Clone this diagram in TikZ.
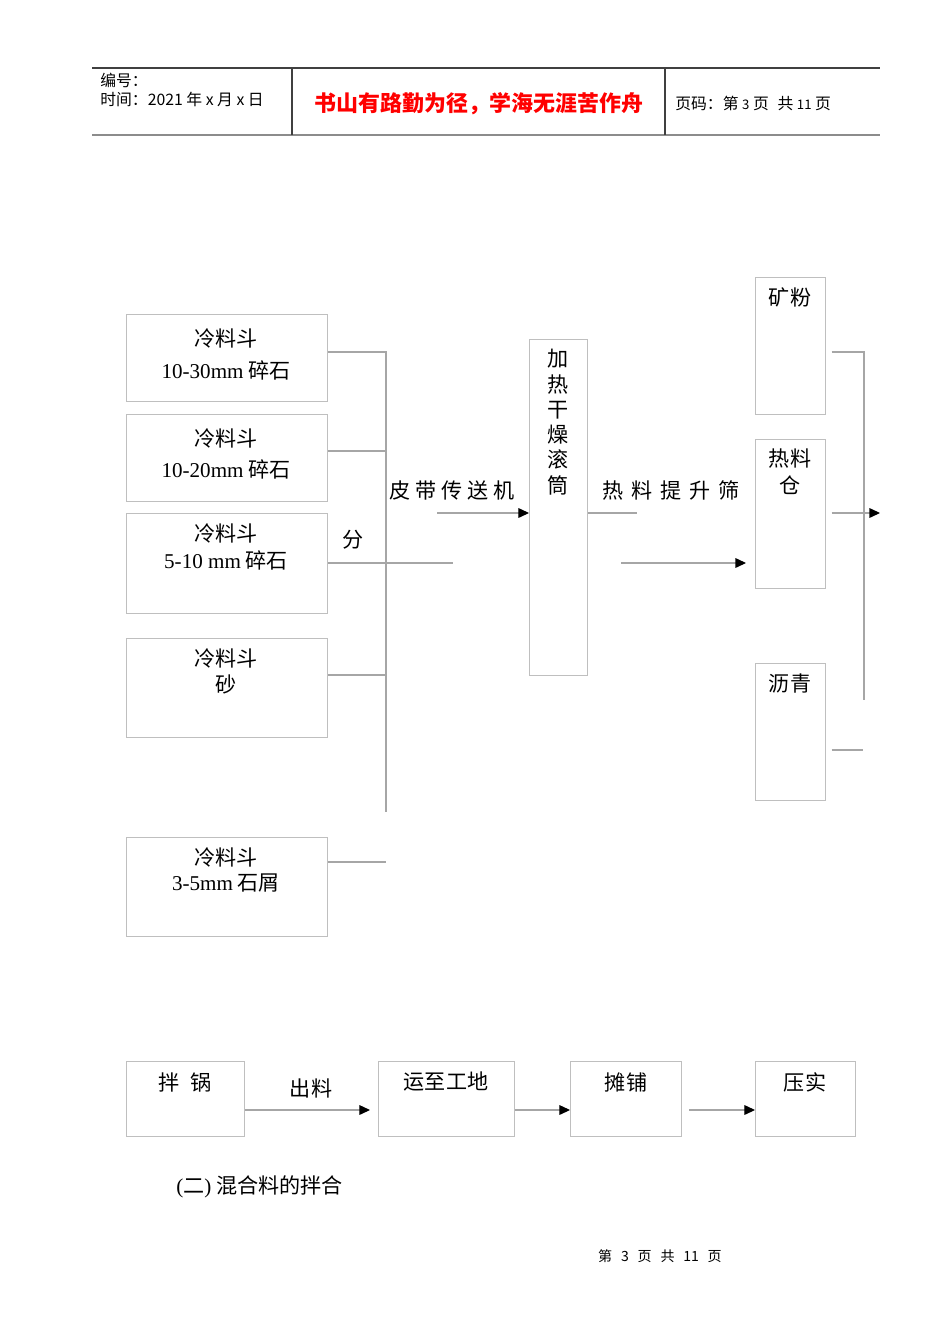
\documentclass[tikz,border=0pt]{standalone}
\usepackage{fontspec}
\setmainfont{Liberation Serif}
\newfontfamily\cjk{Noto Sans CJK SC}
\usepackage{tikz}
\usetikzlibrary{arrows.meta,positioning}
\definecolor{boxgray}{HTML}{BFBFBF}
\definecolor{wiregray}{HTML}{A6A6A6}
\definecolor{rulegray}{HTML}{8C8C8C}
\tikzset{
	hopper/.style={draw=boxgray,line width=0.6pt,anchor=north west,inner sep=0,minimum width=4.02cm},
	binbox/.style={draw=boxgray,line width=0.6pt,anchor=north west,inner sep=0,minimum width=1.4cm},
	stepbox/.style={draw=boxgray,line width=0.6pt,anchor=north west,inner sep=0,minimum height=1.5cm},
	lbl/.style={inner sep=0,font=\cjk\fontsize{12}{14}\selectfont},
	hdr/.style={inner sep=0,anchor=west,font=\cjk\fontsize{9}{11}\selectfont},
	wire/.style={draw=wiregray,line width=0.6pt},
	flow/.style={draw=wiregray,line width=0.6pt,-{Triangle[length=6pt,width=5.5pt,color=black]}}
}

\begin{document}
\begin{tikzpicture}[x=0.02cm,y=-0.02cm]
		\useasboundingbox (0,0) rectangle (950,1344);
		
		% page header
		\draw[black!75,line width=0.6pt] (92,68) -- (880,68);
		\draw[rulegray,line width=1.2pt] (92,135) -- (880,135);
		\draw[black!75,line width=0.6pt] (292,68) -- (292,135);
		\draw[black!75,line width=0.6pt] (665,68) -- (665,135);
		\node[hdr] (docno) at (100,80) {编号：};
		\node[hdr] (docdate) at (100,99) {时间：2021 年 x 月 x 日};
		\node[inner sep=0,text=red,font=\cjk\bfseries\fontsize{12.5}{15}\selectfont] (motto) at (479,104) {书山有路勤为径，学海无涯苦作舟};
		\node[hdr] (pageno) at (675,103) {页码：第 {\fontsize{7.5}{9}\selectfont 3} 页\hspace{5pt}共 {\fontsize{7.5}{9}\selectfont 11} 页};
		
		% cold hoppers
		\node[hopper,minimum height=1.74cm] (h1) at (126,314) {};
		\node[lbl] (h1a) at (226,338) {冷料斗};
		\node[lbl] (h1b) at (226,370) {{\rmfamily 10-30mm} 碎石};
		
		\node[hopper,minimum height=1.74cm] (h2) at (126,414) {};
		\node[lbl] (h2a) at (226,438) {冷料斗};
		\node[lbl] (h2b) at (226,469) {{\rmfamily 10-20mm} 碎石};
		
		\node[hopper,minimum height=2cm] (h3) at (126,513) {};
		\node[lbl] (h3a) at (226,533) {冷料斗};
		\node[lbl] (h3b) at (226,560) {{\rmfamily 5-10 mm} 碎石};
		
		\node[hopper,minimum height=1.98cm] (h4) at (126,638) {};
		\node[lbl] (h4a) at (226,658) {冷料斗};
		\node[lbl] (h4b) at (226,684) {砂};
		
		\node[hopper,minimum height=1.98cm] (h5) at (126,837) {};
		\node[lbl] (h5a) at (226,857) {冷料斗};
		\node[lbl] (h5b) at (226,883) {{\rmfamily 3-5mm} 石屑};
		
		\node[lbl] (split) at (353,540) {分};
		
		% collecting lines
		\coordinate (j1) at (386,352);
		\coordinate (j2) at (386,451);
		\coordinate (f3) at (453,563);
		\coordinate (j4) at (386,675);
		\coordinate (jend) at (386,812);
		\coordinate (j5) at (386,862);
		\draw[wire] (j1 -| h1.east) -- (j1) -- (jend);
		\draw[wire] (j2 -| h2.east) -- (j2);
		\draw[wire] (f3 -| h3.east) -- (f3);
		\draw[wire] (j4 -| h4.east) -- (j4);
		\draw[wire] (j5 -| h5.east) -- (j5);
		
		% dryer drum
		\node[draw=boxgray,line width=0.6pt,anchor=north west,inner sep=0,minimum width=1.16cm,minimum height=6.72cm] (dryer) at (529,339) {};
		\node[lbl,anchor=north,align=center,font=\cjk\fontsize{12}{14.4}\selectfont] (dryert) at (558,349) {加\\热\\干\\燥\\滚\\筒};
		
		\node[lbl] (belt) at (452,490) {皮\hspace{2.7pt}带\hspace{2.7pt}传\hspace{2.7pt}送\hspace{2.7pt}机};
		\coordinate (beltin) at (437,513);
		\draw[flow] (beltin) -- (beltin -| dryer.west);
		
		\node[lbl] (lift) at (671,490) {热\hspace{4.5pt}料\hspace{4.5pt}提\hspace{4.5pt}升\hspace{4.5pt}筛};
		\coordinate (liftup) at (637,513);
		\draw[wire] (liftup -| dryer.east) -- (liftup);
		\coordinate (liftin) at (621,563);
		
		% bins
		\node[binbox,minimum height=2.74cm] (pf) at (755,277) {};
		\node[lbl] (pft) at (790,297) {矿粉};
		\node[binbox,minimum height=2.98cm] (bin) at (755,439) {};
		\node[lbl] (bint) at (790,459) {热料};
		\node[lbl] (bint2) at (790,485) {仓};
		\node[binbox,minimum height=2.74cm] (asp) at (755,663) {};
		\node[lbl] (aspt) at (790,684) {沥青};
		
		\draw[flow,shorten >=0.18cm] (liftin) -- (liftin -| bin.west);
		
		\coordinate (k1) at (864,352);
		\coordinate (kend) at (864,700);
		\coordinate (kout) at (880,513);
		\coordinate (k3) at (863,750);
		\draw[wire,shorten <=0.11cm] (k1 -| pf.east) -- (k1) -- (kend);
		\draw[flow,shorten <=0.11cm] (kout -| bin.east) -- (kout);
		\draw[wire,shorten <=0.11cm] (k3 -| asp.east) -- (k3);
		
		% paving steps
		\node[stepbox,minimum width=2.36cm] (mix) at (126,1061) {};
		\node[lbl] (mixt) at (185,1082) {拌\hspace{6pt}锅};
		\node[stepbox,minimum width=2.72cm] (site) at (378,1061) {};
		\node[lbl] (sitet) at (446,1082) {运至工地};
		\node[stepbox,minimum width=2.22cm] (pave) at (570,1061) {};
		\node[lbl] (pavet) at (626,1082) {摊铺};
		\node[stepbox,minimum width=2cm] (comp) at (755,1061) {};
		\node[lbl] (compt) at (805,1082) {压实};
		\node[lbl] (outt) at (311,1088) {出料};
		
		\coordinate (row) at (0,1110);
		\draw[flow,shorten >=0.16cm] (row -| mix.east) -- (row -| site.west);
		\draw[flow] (row -| site.east) -- (row -| pave.west);
		\draw[flow,shorten <=0.14cm] (row -| pave.east) -- (row -| comp.west);
		
		\node[lbl,anchor=west] (sect) at (176,1187) {{\rmfamily (}二{\rmfamily )} 混合料的拌合};
		
		\node[inner sep=0,font=\cjk\fontsize{8}{10}\selectfont] (foot) at (660,1256) {第\hspace{5pt}3\hspace{5pt}页\hspace{5pt}共\hspace{5pt}11\hspace{5pt}页};
		
	\end{tikzpicture}
\end{document}
